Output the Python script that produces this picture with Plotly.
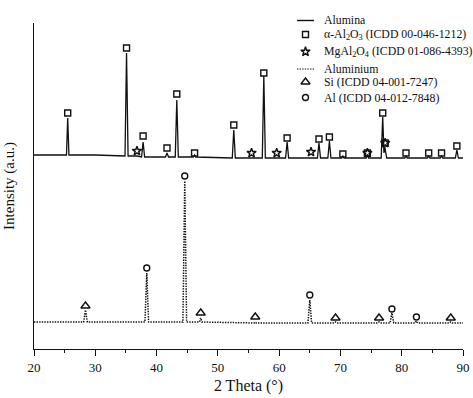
import plotly.graph_objects as go

# ---------------- data (2θ in degrees, intensity in a.u.) ----------------
alumina_2theta = [20.0, 25.0, 25.3, 25.5, 25.7, 30.0, 34.85, 35.1, 35.35, 36.8,
                  37.55, 37.8, 38.05, 41.45, 41.7, 41.95, 43.05, 43.3, 43.55,
                  46.0, 46.2, 46.4, 52.35, 52.6, 52.85, 57.25, 57.5, 57.75,
                  61.05, 61.3, 61.55, 66.25, 66.5, 66.75, 67.95, 68.2, 68.45,
                  70.2, 70.4, 70.6, 74.2, 74.4, 74.6, 76.65, 76.9, 77.1, 77.25,
                  77.55, 80.5, 80.7, 80.9, 84.2, 84.4, 84.6, 86.3, 86.5, 86.7,
                  88.75, 89.0, 89.25, 90.0]
alumina_intensity = [194, 194, 194, 231, 194, 194, 193, 296, 193, 193,
                     192, 207, 192, 192, 196, 192, 192, 249, 192,
                     192, 194, 192, 191, 219, 191, 191, 273, 191,
                     191, 207, 191, 191, 206, 191, 191, 208, 191,
                     191, 193, 191, 191, 194, 191, 191, 232, 196, 202,
                     191, 191, 193, 191, 191, 193, 191, 191, 193, 191,
                     191, 199, 191, 191]

aluminium_2theta = [20.0, 28.1, 28.4, 28.7, 38.1, 38.4, 38.7, 44.3, 44.6, 44.9,
                    47.0, 47.2, 47.4, 55.9, 56.1, 56.3, 64.7, 65.0, 65.3,
                    69.0, 69.2, 69.4, 76.1, 76.3, 76.5, 78.1, 78.4, 78.7,
                    82.2, 82.4, 82.6, 87.8, 88.0, 88.2, 90.0]
aluminium_intensity = [27, 27, 39, 27, 27, 76, 27, 27, 168, 27,
                       27, 31, 27, 26, 27, 26, 26, 49, 26,
                       26, 27, 26, 26, 27, 26, 26, 36, 26,
                       26, 28, 26, 26, 27, 26, 26]

alpha_al2o3_2theta = [25.5, 35.1, 37.8, 41.7, 43.3, 46.2, 52.6, 57.5, 61.3, 66.5,
                      68.2, 70.4, 74.4, 76.9, 77.3, 80.7, 84.4, 86.5, 89.0]
alpha_al2o3_mark = [236, 301, 213, 201, 255, 196, 224, 276, 211, 210,
                    212, 195, 196, 236, 206, 196, 196, 196, 203]

mgal2o4_2theta = [36.8, 55.5, 59.6, 65.2, 74.4, 77.3]
mgal2o4_mark = [198, 196, 196, 197, 196, 206]

si_2theta = [28.4, 47.2, 56.1, 69.2, 76.3, 88.0]
si_mark = [43, 36, 32, 31, 31, 31]

al_2theta = [38.4, 44.6, 65.0, 78.4, 82.4]
al_mark = [81, 173, 54, 40, 32]

x_ticks = [20, 30, 40, 50, 60, 70, 80, 90]

legend_labels = ["Alumina",
                 "α-Al<sub>2</sub>O<sub>3</sub> (ICDD 00-046-1212)",
                 "MgAl<sub>2</sub>O<sub>4</sub> (ICDD 01-086-4393)",
                 "Aluminium",
                 "Si (ICDD 04-001-7247)",
                 "Al (ICDD 04-012-7848)"]

# ---------------- figure ----------------
FONT = "Liberation Serif"
INK = "#111111"
W, H = 473, 398
ML, MR, MT, MB = 34, 10, 23, 49
DOT = "1.4px,1.2px"


def px_x(p):
    return (p - ML) / (W - ML - MR)


def px_y(p):
    return (H - MB - p) / (H - MT - MB)


fig = go.Figure()

fig.add_trace(go.Scatter(x=alumina_2theta, y=alumina_intensity, mode="lines",
                         line=dict(color=INK, width=1.3), showlegend=False))
fig.add_trace(go.Scatter(x=aluminium_2theta, y=aluminium_intensity, mode="lines",
                         line=dict(color=INK, width=1.5, dash=DOT), showlegend=False))

mk = dict(color=INK, line=dict(color=INK, width=1.4))
fig.add_trace(go.Scatter(x=alpha_al2o3_2theta, y=alpha_al2o3_mark, mode="markers",
                         marker=dict(symbol="square-open", size=6, **mk), showlegend=False))
fig.add_trace(go.Scatter(x=mgal2o4_2theta, y=mgal2o4_mark, mode="markers",
                         marker=dict(symbol="star-open", size=7, **mk), showlegend=False))
fig.add_trace(go.Scatter(x=si_2theta, y=si_mark, mode="markers",
                         marker=dict(symbol="triangle-up-open", size=8, **mk), showlegend=False))
fig.add_trace(go.Scatter(x=al_2theta, y=al_mark, mode="markers",
                         marker=dict(symbol="circle-open", size=6, **mk), showlegend=False))

# ---------------- manual legend (layout positions in page pixels) ----------------
row_y = [20.5, 34.5, 51.7, 69, 82, 97.5]
key_x0, key_x1, key_xc, text_x = 297, 314, 305.5, 322
leg_common = dict(xaxis="x2", yaxis="y2", showlegend=False, hoverinfo="skip",
                  cliponaxis=False, mode="markers")
leg_symbols = [(1, "square-open", 6), (2, "star-open", 7),
               (4, "triangle-up-open", 8), (5, "circle-open", 6)]
for i, sym, sz in leg_symbols:
    fig.add_trace(go.Scatter(x=[px_x(key_xc)], y=[px_y(row_y[i])],
                             marker=dict(symbol=sym, size=sz, **mk), **leg_common))

shapes = [
    dict(type="line", xref="paper", yref="paper", x0=px_x(key_x0), x1=px_x(key_x1),
         y0=px_y(row_y[0]), y1=px_y(row_y[0]), line=dict(color=INK, width=1.4)),
    dict(type="line", xref="paper", yref="paper", x0=px_x(key_x0), x1=px_x(key_x1),
         y0=px_y(row_y[3]), y1=px_y(row_y[3]), line=dict(color=INK, width=1.2, dash=DOT)),
]

annotations = []
for lab, yy in zip(legend_labels, row_y):
    annotations.append(dict(x=px_x(text_x), y=px_y(yy), xref="paper", yref="paper",
                            text=lab, showarrow=False, xanchor="left", yanchor="middle",
                            font=dict(family=FONT, size=11.8, color=INK)))

fig.update_layout(
    width=W, height=H,
    margin=dict(l=ML, r=MR, t=MT, b=MB),
    paper_bgcolor="white", plot_bgcolor="white",
    font=dict(family=FONT, color=INK),
    annotations=annotations, shapes=shapes,
    xaxis=dict(range=[20, 90], tickvals=x_ticks, ticks="outside", ticklen=6,
               tickwidth=1, tickcolor=INK, showline=True, linecolor=INK, linewidth=1,
               showgrid=False, zeroline=False,
               minor=dict(dtick=5, tick0=20, ticks="outside", ticklen=3,
                          tickwidth=1, tickcolor=INK, showgrid=False),
               tickfont=dict(family=FONT, size=13, color=INK),
               ticklabelstandoff=0,
               title=dict(text="2 Theta (°)", font=dict(family=FONT, size=16, color=INK),
                          standoff=6),
               automargin=False),
    yaxis=dict(range=[0, 326], showline=True, linecolor=INK, linewidth=1,
               ticks="", showticklabels=False, showgrid=False, zeroline=False,
               title=dict(text="Intensity (a.u.)", font=dict(family=FONT, size=15, color=INK),
                          standoff=14),
               automargin=False),
    xaxis2=dict(range=[0, 1], overlaying="x", anchor="y2", visible=False),
    yaxis2=dict(range=[0, 1], overlaying="y", anchor="x2", visible=False),
)

fig.write_html("out.html", config={"displayModeBar": False},
               post_script="document.body.style.margin='0';")
